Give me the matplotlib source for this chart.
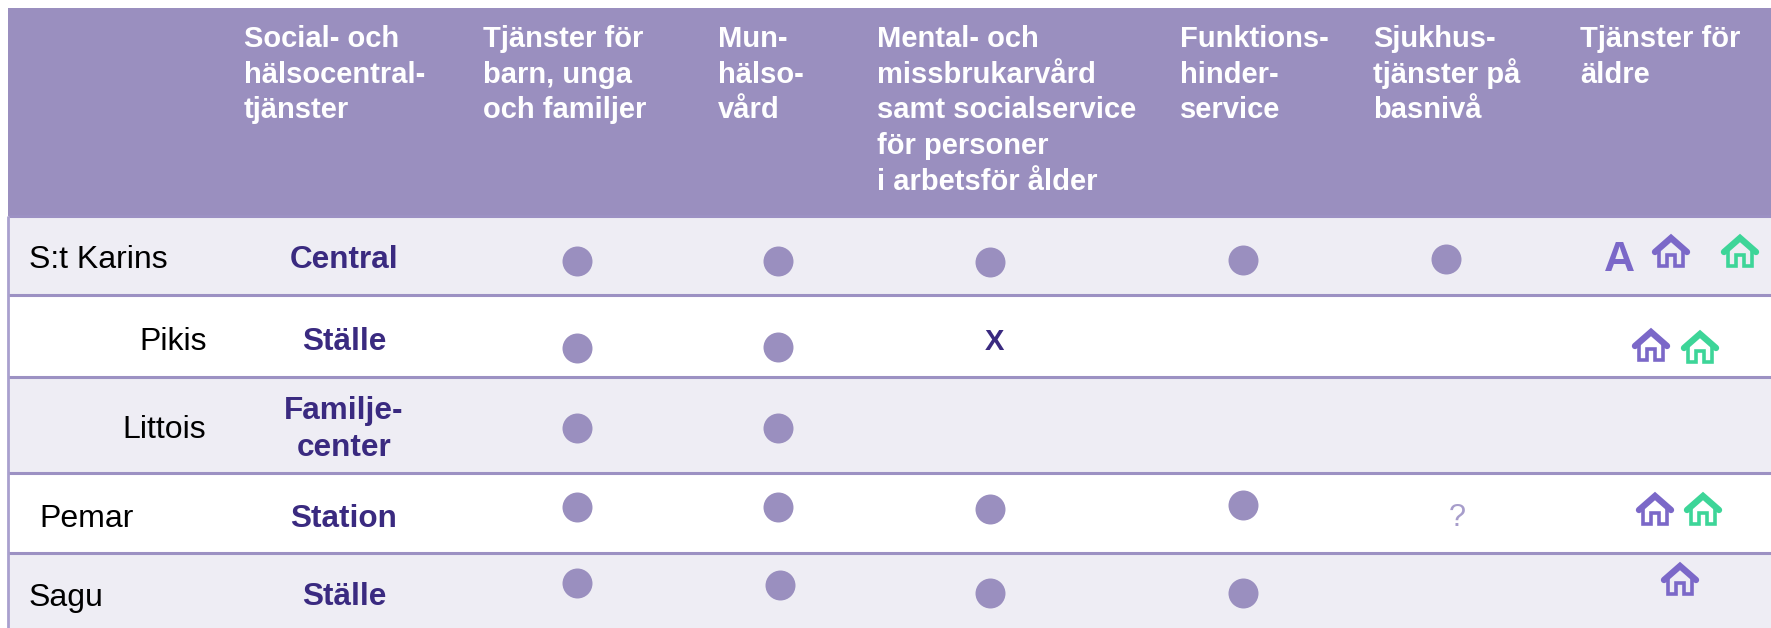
import matplotlib.pyplot as plt
from matplotlib.patches import Rectangle

plt.rcParams["font.family"] = ["Liberation Sans", "DejaVu Sans"]

HEADER_BG = "#9A8FBF"
BAND_BG = "#EEEDF4"
LINE = "#9C91C3"
DARK = "#3A2A80"
PURPLE = "#7B68C8"
GREEN = "#3DD598"

# table content
services = [
    "Social- och\nhälsocentral-\ntjänster",
    "Tjänster för\nbarn, unga\noch familjer",
    "Mun-\nhälso-\nvård",
    "Mental- och\nmissbrukarvård\nsamt socialservice\nför personer\ni arbetsför ålder",
    "Funktions-\nhinder-\nservice",
    "Sjukhus-\ntjänster på\nbasnivå",
    "Tjänster för\näldre",
]
municipalities = ["S:t Karins", "Pikis", "Littois", "Pemar", "Sagu"]
levels = ["Central", "Ställe", "Familje-\ncenter", "Station", "Ställe"]

# layout, in pixels of the 1771x628 picture
header_x = [244, 483, 718, 877, 1180, 1373, 1580]
row_edges = [216, 295, 377, 473, 553, 628]
band_rows = [0, 2, 4]
name_x = [29, 139, 122, 39, 29]
name_y = [268, 350, 438, 527, 606]
level_base = [268, 350, 419, 527, 605]

dot_x = [577, 778, 990, 1243, 1446,
         577, 778,
         577, 778,
         577, 778, 990, 1243,
         577, 780, 990, 1243]
dot_y = [261, 261, 262, 260, 259,
         348, 347,
         428, 428,
         507, 507, 509, 505,
         583, 585, 593, 593]

house_x = [1671, 1740, 1651, 1700, 1655, 1703, 1680]
house_y = [235, 235, 329, 331, 493, 493, 563]
house_colors = [PURPLE, GREEN, PURPLE, GREEN, PURPLE, GREEN, PURPLE]


def draw_house(ax, x, top, color):
    # roof is heavier than the walls and the door
    ax.plot([x - 16, x, x + 16], [top + 17, top + 3, top + 17],
            color=color, lw=4.6, solid_joinstyle="miter", solid_capstyle="round")
    ax.plot([x - 12, x - 12, x - 4, x - 4, x + 4, x + 4, x + 12, x + 12],
            [top + 15, top + 31, top + 31, top + 20, top + 20, top + 31, top + 31, top + 15],
            color=color, lw=2.6, solid_joinstyle="miter")


fig = plt.figure(figsize=(17.71, 6.28), dpi=100)
ax = fig.add_axes([0, 0, 1, 1])
ax.set_xlim(0, 1771)
ax.set_ylim(628, 0)
ax.axis("off")

ax.add_patch(Rectangle((8, 8), 1763, 208, color=HEADER_BG, lw=0))
for i in band_rows:
    ax.add_patch(Rectangle((8, row_edges[i]), 1763, row_edges[i + 1] - row_edges[i],
                           color=BAND_BG, lw=0))
for y in row_edges[:-1]:
    ax.plot([8, 1771], [y, y], color=LINE, lw=2.2, solid_capstyle="butt")
ax.plot([8, 8], [216, 628], color="#A9A0CE", lw=2.0, solid_capstyle="butt")

# each line on its own baseline so the descenders don't shift the spacing
for x, label in zip(header_x, services):
    for n, line in enumerate(label.split("\n")):
        ax.text(x, 47 + n * 35.7, line, color="white", fontsize=21, fontweight="bold",
                ha="left", va="baseline")

for x, y, name in zip(name_x, name_y, municipalities):
    ax.text(x, y, name, color="black", fontsize=23, ha="left", va="baseline")
for y, level in zip(level_base, levels):
    for n, line in enumerate(level.split("\n")):
        ax.text(344, y + n * 37, line, color=DARK, fontsize=22.7, fontweight="bold",
                ha="center", va="baseline")

ax.scatter(dot_x, dot_y, s=466, color=HEADER_BG, linewidths=0, zorder=3)

ax.text(994, 342, "X", color=DARK, fontsize=21, fontweight="bold", ha="center", va="center")
ax.text(1457, 518, "?", color="#A79DCB", fontsize=22, ha="center", va="center")
ax.text(1619, 260, "A", color=PURPLE, fontsize=31, fontweight="bold", ha="center", va="center")

for x, y, color in zip(house_x, house_y, house_colors):
    draw_house(ax, x, y, color)

fig.savefig("out.png", dpi=100)
